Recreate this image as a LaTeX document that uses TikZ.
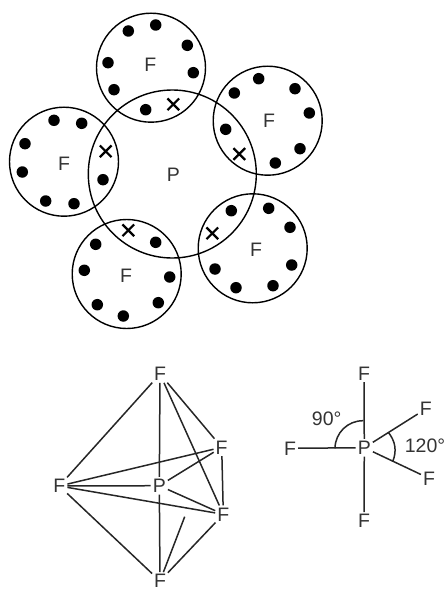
\documentclass[tikz,border=0pt]{standalone}
\usepackage{fontspec}
\setmainfont{Liberation Sans}
\usetikzlibrary{shapes.misc}

\begin{document}
\begin{tikzpicture}[
  x=1pt, y=-1pt,
  shell/.style={draw, circle, line width=1.4pt, minimum size=109pt, inner sep=0pt},
  centre/.style={draw, circle, line width=1.4pt, minimum size=168pt, inner sep=0pt},
  dot/.style={circle, fill=black, minimum size=11.5pt, inner sep=0pt},
  cross/.style={cross out, draw, line width=2.2pt, minimum size=9.5pt, inner sep=0pt},
  atom/.style={font=\fontsize{19.5}{19.5}\selectfont, text=black!80, inner sep=1pt},
  bond/.style={line width=1.5pt, black!85, shorten >=1pt, shorten <=1pt}
]
  \useasboundingbox (0,0) rectangle (447,591);

  \node[centre] (Pc) at (172.3,174) {};
  \node[shell] (Ctop) at (151,67.7) {};
  \node[shell] (Cright) at (267.7,120.7) {};
  \node[shell] (Clow) at (252.7,248.3) {};
  \node[shell] (Cbot) at (126.7,274) {};
  \node[shell] (Cleft) at (64,161.7) {};

  \node[atom] (Plab) at (173.3,174.7) {P};
  \node[atom] (Ftop) at (150.3,65) {F};
  \node[atom] (Fright) at (269,120.7) {F};
  \node[atom] (Flow) at (256,249.3) {F};
  \node[atom] (Fbot) at (126,276) {F};
  \node[atom] (Fleft) at (64,163.3) {F};

  \node[dot] (t1) at (128.3,31) {};
  \node[dot] (t2) at (155.7,25) {};
  \node[dot] (t3) at (187.3,45.3) {};
  \node[dot] (t4) at (193.3,72.7) {};
  \node[dot] (t5) at (108,62.7) {};
  \node[dot] (t6) at (114,89.7) {};
  \node[dot] (t7) at (145.7,109.7) {};
  \node[cross] (tx) at (173.3,104.3) {};

  \node[dot] (r1) at (234.3,93) {};
  \node[dot] (r2) at (258.7,78.7) {};
  \node[dot] (r3) at (295,88.7) {};
  \node[dot] (r4) at (309.3,113) {};
  \node[dot] (r5) at (300,148.7) {};
  \node[dot] (r6) at (275.3,163) {};
  \node[dot] (r7) at (225.7,129.3) {};
  \node[cross] (rx) at (239.3,154) {};

  \node[dot] (l1) at (231.3,210.7) {};
  \node[dot] (l2) at (268.7,208.3) {};
  \node[dot] (l3) at (290,227.3) {};
  \node[dot] (l4) at (291.7,265) {};
  \node[dot] (l5) at (273,285.7) {};
  \node[dot] (l6) at (236,287.7) {};
  \node[dot] (l7) at (215,269) {};
  \node[cross] (lx) at (212.3,233.3) {};

  \node[dot] (b1) at (95.7,244.3) {};
  \node[dot] (b2) at (84.3,270.3) {};
  \node[dot] (b3) at (97.3,304.7) {};
  \node[dot] (b4) at (123.3,316) {};
  \node[dot] (b5) at (158.3,302.7) {};
  \node[dot] (b6) at (169.7,277) {};
  \node[dot] (b7) at (155.7,242.3) {};
  \node[cross] (bx) at (128.3,230.3) {};

  \node[dot] (e1) at (54,120.3) {};
  \node[dot] (e2) at (81.7,123.3) {};
  \node[dot] (e3) at (25,143.7) {};
  \node[dot] (e4) at (22.3,172) {};
  \node[dot] (e5) at (45.7,201) {};
  \node[dot] (e6) at (74,203.7) {};
  \node[dot] (e7) at (103,179.7) {};
  \node[cross] (ex) at (105.7,151.3) {};

  \node[atom] (Aa) at (160,374) {F};
  \node[atom] (Ab) at (221.7,447.3) {F};
  \node[atom] (Ac) at (223.3,514.3) {F};
  \node[atom] (Ad) at (59.3,486) {F};
  \node[atom] (Ap) at (159.3,485.7) {P};
  \node[atom] (Ae) at (160,581) {F};
  \coordinate (Aend) at (184.7,516.7);

  \draw[bond] (Aa) -- (Ad);
  \draw[bond] (Aa) -- (Ap);
  \draw[bond] (Aa) -- (Ab);
  \draw[bond] (Aa) -- (Ac);
  \draw[bond] (Ad) -- (Ab);
  \draw[bond] (Ad) -- (Ap);
  \draw[bond] (Ad) -- (Ac);
  \draw[bond] (Ad) -- (Ae);
  \draw[bond] (Ab) -- (Ac);
  \draw[bond] (Ap) -- (Ab);
  \draw[bond] (Ap) -- (Ac);
  \draw[bond] (Ap) -- (Ae);
  \draw[bond] (Ae) -- (Ac);
  \draw[bond, shorten >=0pt] (Ae) -- (Aend);

  \node[atom] (Ba) at (364,373.3) {F};
  \node[atom] (Bp) at (364.3,447.7) {P};
  \node[atom] (Bl) at (290,448.3) {F};
  \node[atom] (Bu) at (425.7,409) {F};
  \node[atom] (Bd) at (429,478.3) {F};
  \node[atom] (Bb) at (364,521) {F};
  \node[atom] (deg90) at (326.7,419) {90°};
  \node[atom] (deg120) at (425,446) {120°};
  \coordinate (Ax1) at (335,448.3);
  \coordinate (Ax2) at (363.3,420.7);
  \coordinate (Ay1) at (388.3,432.3);
  \coordinate (Ay2) at (392.7,461.7);

  \draw[bond] (Ba) -- (Bp);
  \draw[bond] (Bl) -- (Bp);
  \draw[bond] (Bu) -- (Bp);
  \draw[bond] (Bd) -- (Bp);
  \draw[bond] (Bb) -- (Bp);
  \draw[bond, shorten >=0pt, shorten <=0pt] (Ax1) to[bend left=45] (Ax2);
  \draw[bond, shorten >=0pt, shorten <=0pt] (Ay1) to[bend left=30] (Ay2);
\end{tikzpicture}
\end{document}
